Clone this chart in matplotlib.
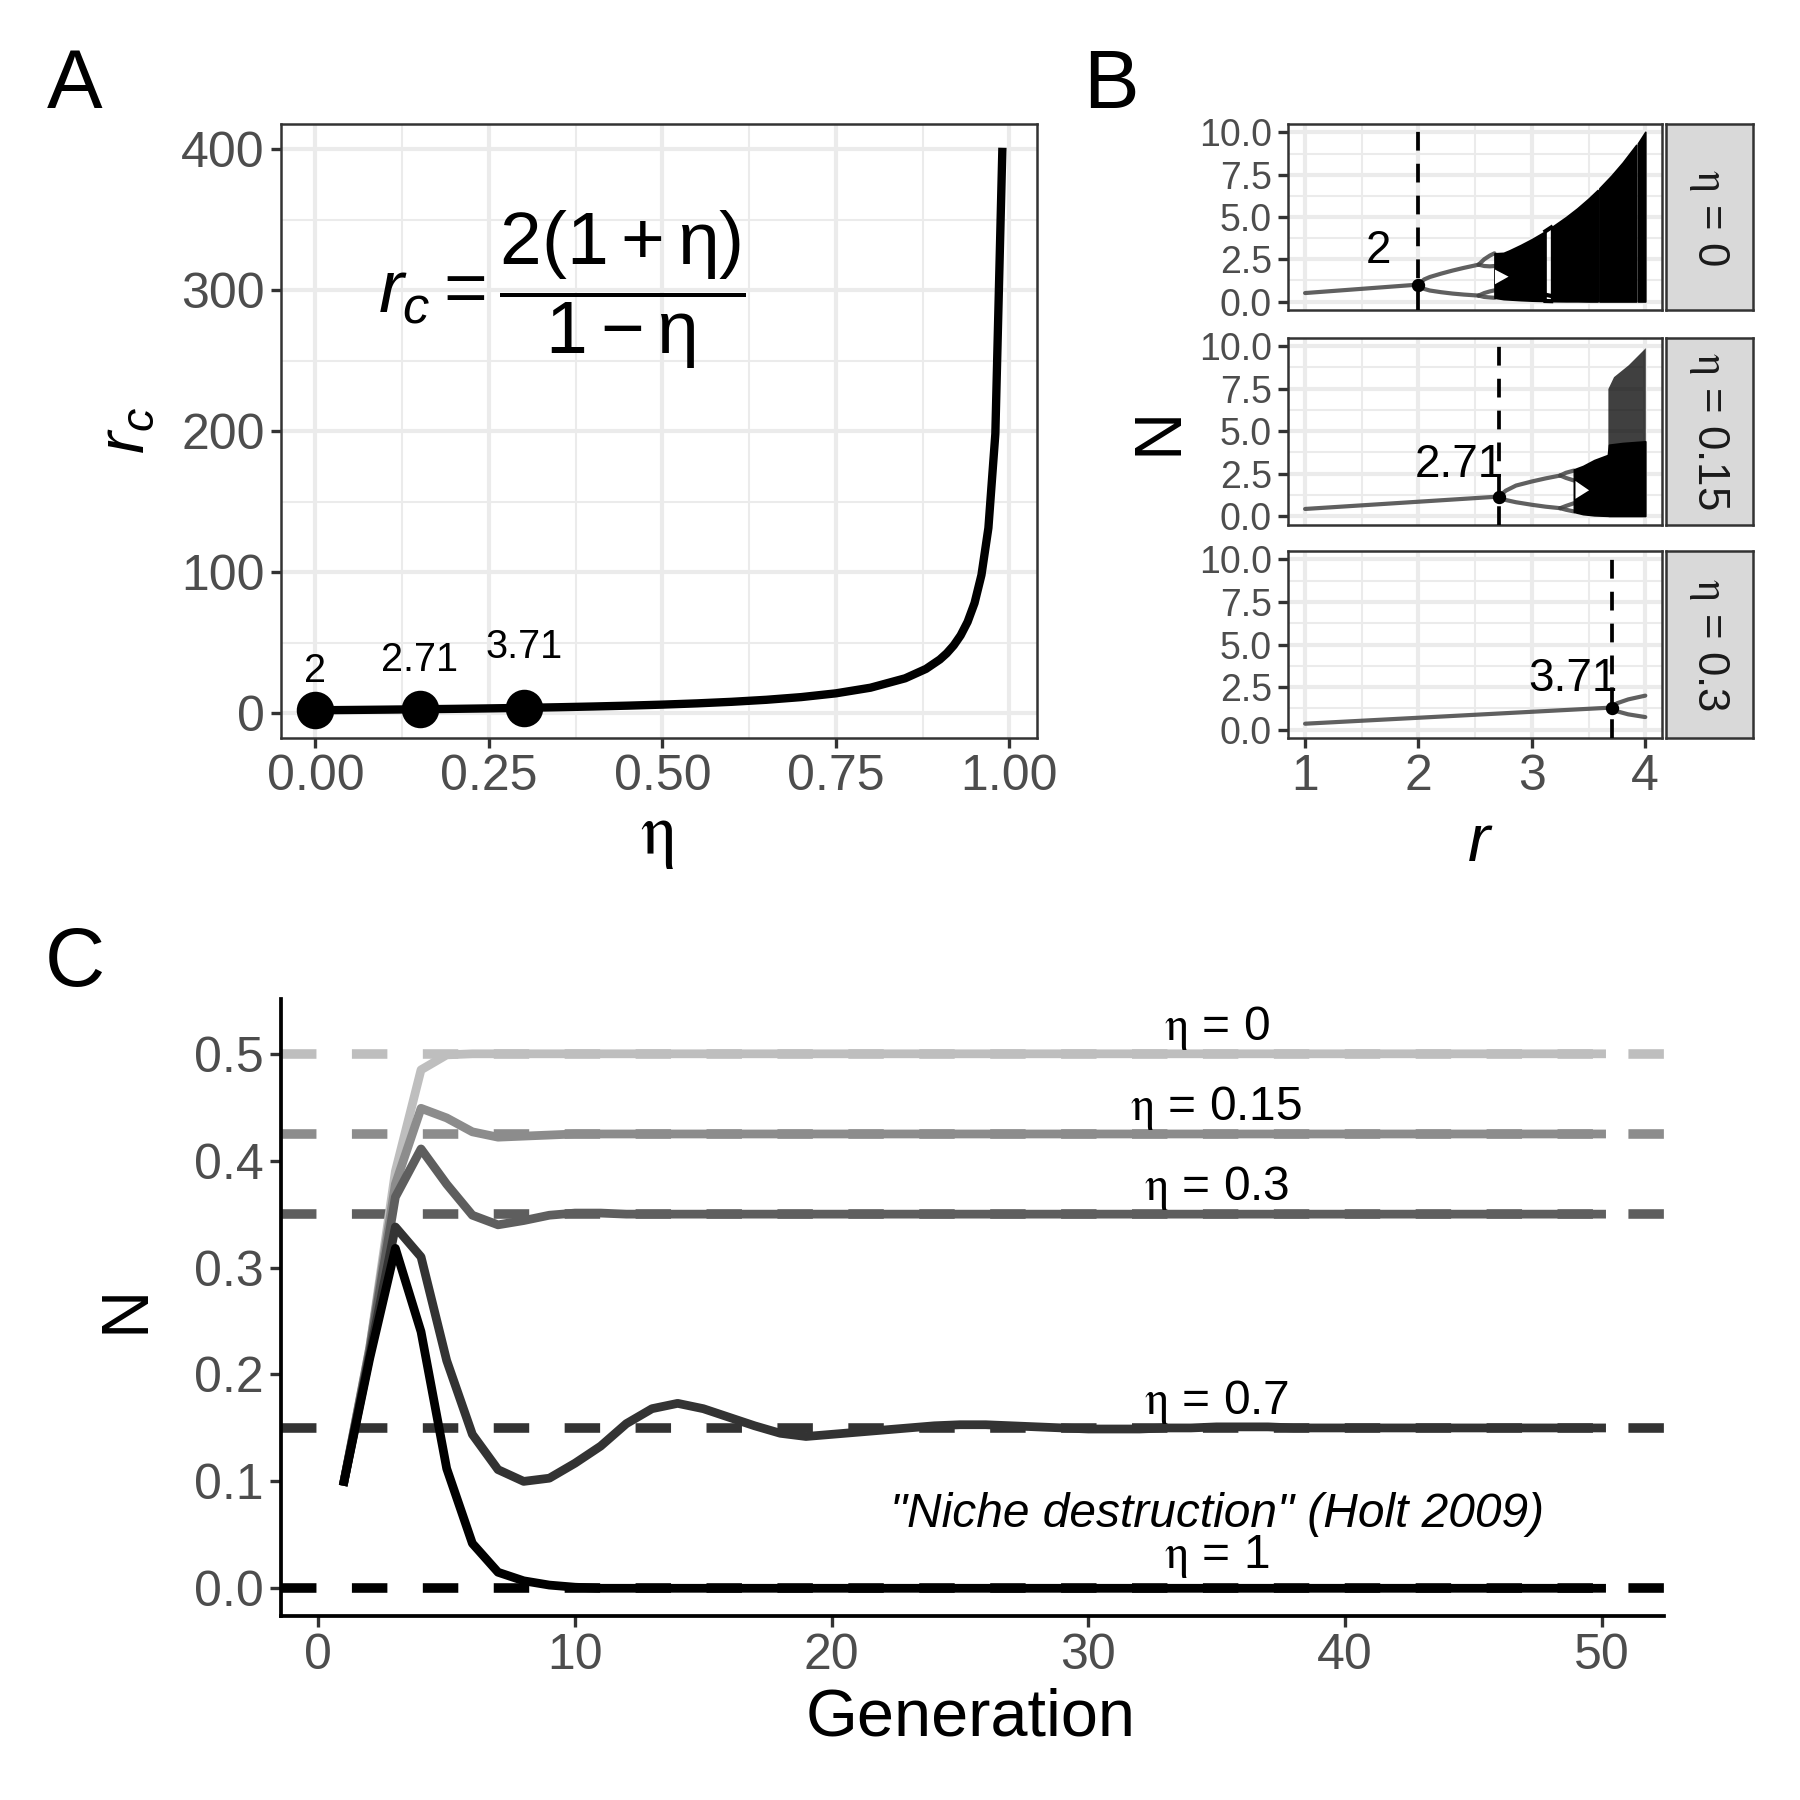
import numpy as np
import matplotlib.pyplot as plt

plt.rcParams['font.family'] = ['Liberation Sans', 'DejaVu Sans']
plt.rcParams['mathtext.fontset'] = 'custom'
plt.rcParams['mathtext.rm'] = 'Liberation Sans'
plt.rcParams['mathtext.it'] = 'Liberation Sans:italic'
plt.rcParams['mathtext.bf'] = 'Liberation Sans:bold'

# ---------------- panel A : critical r versus eta ----------------
eta_curve = [0.0, 0.05, 0.10, 0.15, 0.20, 0.25, 0.30, 0.35, 0.40, 0.45, 0.50, 0.55,
             0.60, 0.65, 0.70, 0.75, 0.80, 0.85, 0.88, 0.90, 0.91, 0.92, 0.93,
             0.94, 0.95, 0.96, 0.97, 0.98, 0.99]
rc_curve = [2.0, 2.21, 2.44, 2.71, 3.0, 3.33, 3.71, 4.15, 4.67, 5.27, 6.0, 6.89,
            8.0, 9.43, 11.33, 14.0, 18.0, 24.67, 31.33, 38.0, 42.44, 48.0, 55.14,
            64.67, 78.0, 98.0, 131.33, 198.0, 398.0]
eta_pts = [0.0, 0.15, 0.30]
rc_pts = [2.0, 2.71, 3.71]
rc_labels = ['2', '2.71', '3.71']
rc_label_y = [30, 38, 47]

# ---------------- panel B : bifurcation diagrams ----------------
facet_eta = ['0', '0.15', '0.3']
facet_rc = [2.0, 2.71, 3.71]
facet_rc_label = ['2', '2.71', '3.71']
facet_fix_n = [1.0, 1.152, 1.30]

# eta = 0
b0_fix_r = [1.0, 1.5, 2.0]
b0_fix_n = [0.5, 0.75, 1.0]
b0_p2_r = [2.0, 2.05, 2.1, 2.2, 2.3, 2.4, 2.5, 2.53]
b0_p2_hi = [1.0, 1.305, 1.45, 1.65, 1.83, 1.99, 2.135, 2.18]
b0_p2_lo = [1.0, 0.745, 0.65, 0.55, 0.47, 0.41, 0.365, 0.35]
b0_p4_r = [2.53, 2.58, 2.63, 2.67]
b0_p4_hia = [2.18, 2.50, 2.72, 2.85]
b0_p4_hib = [2.18, 2.10, 2.08, 2.10]
b0_p4_loa = [0.35, 0.50, 0.60, 0.66]
b0_p4_lob = [0.35, 0.27, 0.24, 0.22]
b0_ch1_r = [2.67, 2.75, 2.80, 2.90, 3.00, 3.12]
b0_ch1_hi = [2.85, 2.88, 3.02, 3.34, 3.69, 4.16]
b0_ch1_lo = [0.22, 0.14, 0.12, 0.08, 0.05, 0.03]
b0_notch_r = [2.67, 2.79]
b0_notch_lo = [1.05, 1.50]
b0_notch_hi = [1.92, 1.50]
b0_ch2_r = [3.17, 3.30, 3.40, 3.50, 3.58]
b0_ch2_hi = [4.38, 4.99, 5.51, 6.09, 6.60]
b0_ch2_lo = [0.02, 0.01, 0.01, 0.0, 0.0]
b0_ch3_r = [3.595, 3.70, 3.80, 3.92]
b0_ch3_hi = [6.70, 7.44, 8.22, 9.27]
b0_ch3_lo = [0.0, 0.0, 0.0, 0.0]
b0_ch4_r = [3.935, 4.00]
b0_ch4_hi = [9.36, 10.04]
b0_ch4_lo = [0.0, 0.0]
b0_win_r = [3.12, 3.17]
b0_win_top = [4.16, 4.38]
b0_win_mid = [0.40, 0.33]
b0_win_bot = [0.03, 0.02]

# eta = 0.15
b1_fix_r = [1.0, 2.71]
b1_fix_n = [0.425, 1.152]
b1_p2_r = [2.71, 2.77, 2.86, 3.0, 3.12, 3.25]
b1_p2_hi = [1.152, 1.50, 1.80, 2.04, 2.22, 2.39]
b1_p2_lo = [1.152, 0.95, 0.82, 0.67, 0.56, 0.47]
b1_p4_r = [3.25, 3.30, 3.37]
b1_p4_hia = [2.39, 2.55, 2.68]
b1_p4_hib = [2.39, 2.25, 2.10]
b1_p4_loa = [0.47, 0.60, 0.76]
b1_p4_lob = [0.47, 0.38, 0.28]
b1_ch_r = [3.37, 3.45, 3.55, 3.67, 3.68, 3.80, 4.00]
b1_ch_hi = [2.75, 2.95, 3.30, 3.60, 4.20, 4.30, 4.40]
b1_ch_lo = [0.25, 0.12, 0.05, 0.02, 0.01, 0.01, 0.01]
b1_notch_r = [3.38, 3.50]
b1_notch_lo = [1.05, 1.55]
b1_notch_hi = [2.10, 1.55]
b1_sp_r = [3.67, 3.72, 3.85, 4.00]
b1_sp_hi = [7.5, 8.2, 8.9, 9.9]
b1_sp_lo = [3.6, 3.6, 3.7, 3.8]

# eta = 0.3
b2_fix_r = [1.0, 3.71]
b2_fix_n = [0.35, 1.30]
b2_p2_r = [3.71, 3.75, 3.85, 4.0]
b2_p2_hi = [1.30, 1.55, 1.78, 2.00]
b2_p2_lo = [1.30, 1.08, 0.90, 0.74]

# ---------------- panel C : time series ----------------
generation = list(range(1, 51))
c_eta_names = ['0', '0.15', '0.3', '0.7', '1']
c_equilibrium = [0.5, 0.425, 0.35, 0.15, 0.0]
c_colors = ['#BEBEBE', '#8C8C8C', '#5E5E5E', '#333333', '#000000']
c_label_y = [0.513, 0.438, 0.363, 0.163, 0.019]
n_eta0 = [0.100, 0.225, 0.390, 0.485, 0.499, 0.500, 0.500, 0.500, 0.500, 0.500,
          0.500, 0.500, 0.500, 0.500, 0.500, 0.500, 0.500, 0.500, 0.500, 0.500,
          0.500, 0.500, 0.500, 0.500, 0.500, 0.500, 0.500, 0.500, 0.500, 0.500,
          0.500, 0.500, 0.500, 0.500, 0.500, 0.500, 0.500, 0.500, 0.500, 0.500,
          0.500, 0.500, 0.500, 0.500, 0.500, 0.500, 0.500, 0.500, 0.500, 0.500]
n_eta015 = [0.100, 0.225, 0.378, 0.449, 0.440, 0.427, 0.422, 0.423, 0.424, 0.425,
            0.425, 0.425, 0.425, 0.425, 0.425, 0.425, 0.425, 0.425, 0.425, 0.425,
            0.425, 0.425, 0.425, 0.425, 0.425, 0.425, 0.425, 0.425, 0.425, 0.425,
            0.425, 0.425, 0.425, 0.425, 0.425, 0.425, 0.425, 0.425, 0.425, 0.425,
            0.425, 0.425, 0.425, 0.425, 0.425, 0.425, 0.425, 0.425, 0.425, 0.425]
n_eta03 = [0.100, 0.222, 0.366, 0.411, 0.378, 0.349, 0.340, 0.344, 0.349, 0.351,
           0.351, 0.350, 0.350, 0.350, 0.350, 0.350, 0.350, 0.350, 0.350, 0.350,
           0.350, 0.350, 0.350, 0.350, 0.350, 0.350, 0.350, 0.350, 0.350, 0.350,
           0.350, 0.350, 0.350, 0.350, 0.350, 0.350, 0.350, 0.350, 0.350, 0.350,
           0.350, 0.350, 0.350, 0.350, 0.350, 0.350, 0.350, 0.350, 0.350, 0.350]
n_eta07 = [0.100, 0.218, 0.338, 0.310, 0.213, 0.144, 0.111, 0.100, 0.103, 0.117,
           0.133, 0.154, 0.168, 0.173, 0.168, 0.160, 0.152, 0.145, 0.142, 0.144,
           0.146, 0.148, 0.150, 0.152, 0.153, 0.153, 0.152, 0.151, 0.150, 0.149,
           0.149, 0.149, 0.150, 0.150, 0.151, 0.151, 0.151, 0.150, 0.150, 0.150,
           0.150, 0.150, 0.150, 0.150, 0.150, 0.150, 0.150, 0.150, 0.150, 0.150]
n_eta1 = [0.100, 0.215, 0.318, 0.240, 0.112, 0.042, 0.015, 0.007, 0.003, 0.001,
          0.000, 0.000, 0.000, 0.000, 0.000, 0.000, 0.000, 0.000, 0.000, 0.000,
          0.000, 0.000, 0.000, 0.000, 0.000, 0.000, 0.000, 0.000, 0.000, 0.000,
          0.000, 0.000, 0.000, 0.000, 0.000, 0.000, 0.000, 0.000, 0.000, 0.000,
          0.000, 0.000, 0.000, 0.000, 0.000, 0.000, 0.000, 0.000, 0.000, 0.000]
c_series = [n_eta0, n_eta015, n_eta03, n_eta07, n_eta1]

TICK_TXT = '#4D4D4D'
DARK = '#333333'
GRID = '#EBEBEB'
ETA = r'$\mathrm{\eta}$'


def style_bw(ax):
    for s in ax.spines.values():
        s.set_color(DARK)
        s.set_linewidth(0.6)
    ax.grid(True, which='major', color=GRID, lw=1.0)
    ax.grid(True, which='minor', color=GRID, lw=0.5)
    ax.set_axisbelow(True)
    ax.tick_params(which='major', length=2.4, width=0.8, color=DARK,
                   labelcolor=TICK_TXT, pad=1.5)
    ax.tick_params(which='minor', length=0)


fig = plt.figure(figsize=(6, 6), dpi=300)

# ---- A ----
axA = fig.add_axes([0.1562, 0.5899, 0.4197, 0.3412])
style_bw(axA)
axA.plot(eta_curve, rc_curve, color='black', lw=2.0, zorder=3)
axA.plot(eta_pts, rc_pts, 'o', color='black', ms=8.0, zorder=4)
for x, y, lab in zip(eta_pts, rc_label_y, rc_labels):
    axA.text(x, y, lab, ha='center', va='center', fontsize=9.5)
axA.text(0.355, 300, r'$r_c = \dfrac{2(1+\mathrm{\eta})}{1-\mathrm{\eta}}$', fontsize=18,
         ha='center', va='center')
axA.set_xlim(-0.0495, 1.0395)
axA.set_ylim(-17.8, 417.8)
axA.set_xticks([0, 0.25, 0.5, 0.75, 1.0])
axA.set_xticklabels(['0.00', '0.25', '0.50', '0.75', '1.00'])
axA.set_xticks([0.125, 0.375, 0.625, 0.875], minor=True)
axA.set_yticks([0, 100, 200, 300, 400])
axA.set_yticks([50, 150, 250, 350], minor=True)
axA.tick_params(labelsize=12)

fig.text(0.3648, 0.5344, ETA, math_fontfamily='stix', fontsize=17, ha='center', va='center')
fig.text(0.0702, 0.7608, r'$r_c$', fontsize=16, rotation=90, ha='center', va='center')

# ---- B ----
facet_box = [(0.8278, 0.1033), (0.7085, 0.1040), (0.5899, 0.1040)]
fac_axes = []
for i, (bot, h) in enumerate(facet_box):
    ax = fig.add_axes([0.7156, bot, 0.2079, h])
    style_bw(ax)
    ax.set_xlim(0.85, 4.15)
    ax.set_ylim(-0.5, 10.5)
    ax.set_xticks([1, 2, 3, 4])
    ax.set_xticks([1.5, 2.5, 3.5], minor=True)
    ax.set_yticks([0, 2.5, 5, 7.5, 10])
    ax.set_yticklabels(['0.0', '2.5', '5.0', '7.5', '10.0'])
    ax.set_yticks([1.25, 3.75, 6.25, 8.75], minor=True)
    ax.tick_params(axis='y', labelsize=9)
    ax.tick_params(axis='x', labelsize=12)
    if i < 2:
        ax.tick_params(axis='x', which='both', length=0, labelbottom=False)
    sax = fig.add_axes([0.9254, bot, 0.0485, h])
    sax.set_facecolor('#D9D9D9')
    sax.set_xticks([])
    sax.set_yticks([])
    for s in sax.spines.values():
        s.set_color(DARK)
        s.set_linewidth(0.6)
    sax.text(0.5, 0.5, ETA + ' = ' + facet_eta[i], math_fontfamily='stix',
             rotation=-90, ha='center', va='center', fontsize=10.5,
             color='#1A1A1A', transform=sax.transAxes)
    fac_axes.append(ax)

bkw = dict(color='#444444', lw=1.0, alpha=0.85, solid_capstyle='round', zorder=2)

ax = fac_axes[0]
ax.plot(b0_fix_r, b0_fix_n, **bkw)
ax.plot(b0_p2_r, b0_p2_hi, **bkw)
ax.plot(b0_p2_r, b0_p2_lo, **bkw)
for arr in (b0_p4_hia, b0_p4_hib, b0_p4_loa, b0_p4_lob):
    ax.plot(b0_p4_r, arr, **bkw)
for rr, lo, hi in ((b0_ch1_r, b0_ch1_lo, b0_ch1_hi), (b0_ch2_r, b0_ch2_lo, b0_ch2_hi),
                   (b0_ch3_r, b0_ch3_lo, b0_ch3_hi), (b0_ch4_r, b0_ch4_lo, b0_ch4_hi)):
    ax.fill_between(rr, lo, hi, color='black', lw=0.4, zorder=2)
ax.fill_between(b0_notch_r, b0_notch_lo, b0_notch_hi, color='white', lw=0, zorder=2)
for arr in (b0_win_top, b0_win_mid, b0_win_bot):
    ax.plot(b0_win_r, arr, color='black', lw=1.0, zorder=2)

ax = fac_axes[1]
ax.plot(b1_fix_r, b1_fix_n, **bkw)
ax.plot(b1_p2_r, b1_p2_hi, **bkw)
ax.plot(b1_p2_r, b1_p2_lo, **bkw)
for arr in (b1_p4_hia, b1_p4_hib, b1_p4_loa, b1_p4_lob):
    ax.plot(b1_p4_r, arr, **bkw)
ax.fill_between(b1_sp_r, b1_sp_lo, b1_sp_hi, color='black', alpha=0.75, lw=0, zorder=2)
ax.fill_between(b1_ch_r, b1_ch_lo, b1_ch_hi, color='black', lw=0.4, zorder=2)
ax.fill_between(b1_notch_r, b1_notch_lo, b1_notch_hi, color='white', lw=0, zorder=2)

ax = fac_axes[2]
ax.plot(b2_fix_r, b2_fix_n, **bkw)
ax.plot(b2_p2_r, b2_p2_hi, **bkw)
ax.plot(b2_p2_r, b2_p2_lo, **bkw)

for ax, rc, lab, nfix in zip(fac_axes, facet_rc, facet_rc_label, facet_fix_n):
    ax.axvline(rc, color='black', lw=0.9, ls=(0, (5, 3.5)), zorder=3)
    ax.plot([rc], [nfix], 'o', color='black', ms=2.2, zorder=4)
    ax.text(rc - 0.35, 3.0, lab, fontsize=11, ha='center', va='center', zorder=5)

fig.text(0.6441, 0.7608, 'N', fontsize=16, rotation=90, ha='center', va='center')
fig.text(0.8214, 0.5313, 'r', fontsize=16, fontstyle='italic', ha='center', va='center')

# ---- C ----
axC = fig.add_axes([0.1562, 0.1020, 0.7685, 0.3432])
axC.set_xlim(-1.45, 52.45)
axC.set_ylim(-0.0263, 0.5516)
for eq, col in zip(c_equilibrium, c_colors):
    axC.plot([-1.45, 52.45], [eq, eq], color=col, lw=2.3, ls=(0, (3.7, 3.7)),
             solid_capstyle='butt', dash_capstyle='butt', zorder=2)
for ser, col in zip(c_series, c_colors):
    axC.plot(generation, ser, color=col, lw=2.1, zorder=3)
for name, y in zip(c_eta_names, c_label_y):
    axC.text(35, y, ETA + ' = ' + name, math_fontfamily='stix', fontsize=11.5,
             ha='center', va='baseline', zorder=4)
axC.text(35, 0.057, '"Niche destruction" (Holt 2009)', fontsize=11.5,
         fontstyle='italic', ha='center', va='baseline', zorder=4)
for side in ('top', 'right'):
    axC.spines[side].set_visible(False)
for side in ('left', 'bottom'):
    axC.spines[side].set_color('black')
    axC.spines[side].set_linewidth(0.9)
axC.set_xticks([0, 10, 20, 30, 40, 50])
axC.set_yticks([0, 0.1, 0.2, 0.3, 0.4, 0.5])
axC.set_yticklabels(['0.0', '0.1', '0.2', '0.3', '0.4', '0.5'])
axC.tick_params(length=2.6, width=0.8, color=DARK, labelcolor=TICK_TXT,
                labelsize=12, pad=1.5)

fig.text(0.5395, 0.0453, 'Generation', fontsize=16, ha='center', va='center')
fig.text(0.0702, 0.2730, 'N', fontsize=16, rotation=90, ha='center', va='center')

fig.text(0.0415, 0.9522, 'A', fontsize=20, ha='center', va='center')
fig.text(0.6173, 0.9522, 'B', fontsize=20, ha='center', va='center')
fig.text(0.0415, 0.4643, 'C', fontsize=20, ha='center', va='center')

fig.savefig('out.png', dpi=300)
